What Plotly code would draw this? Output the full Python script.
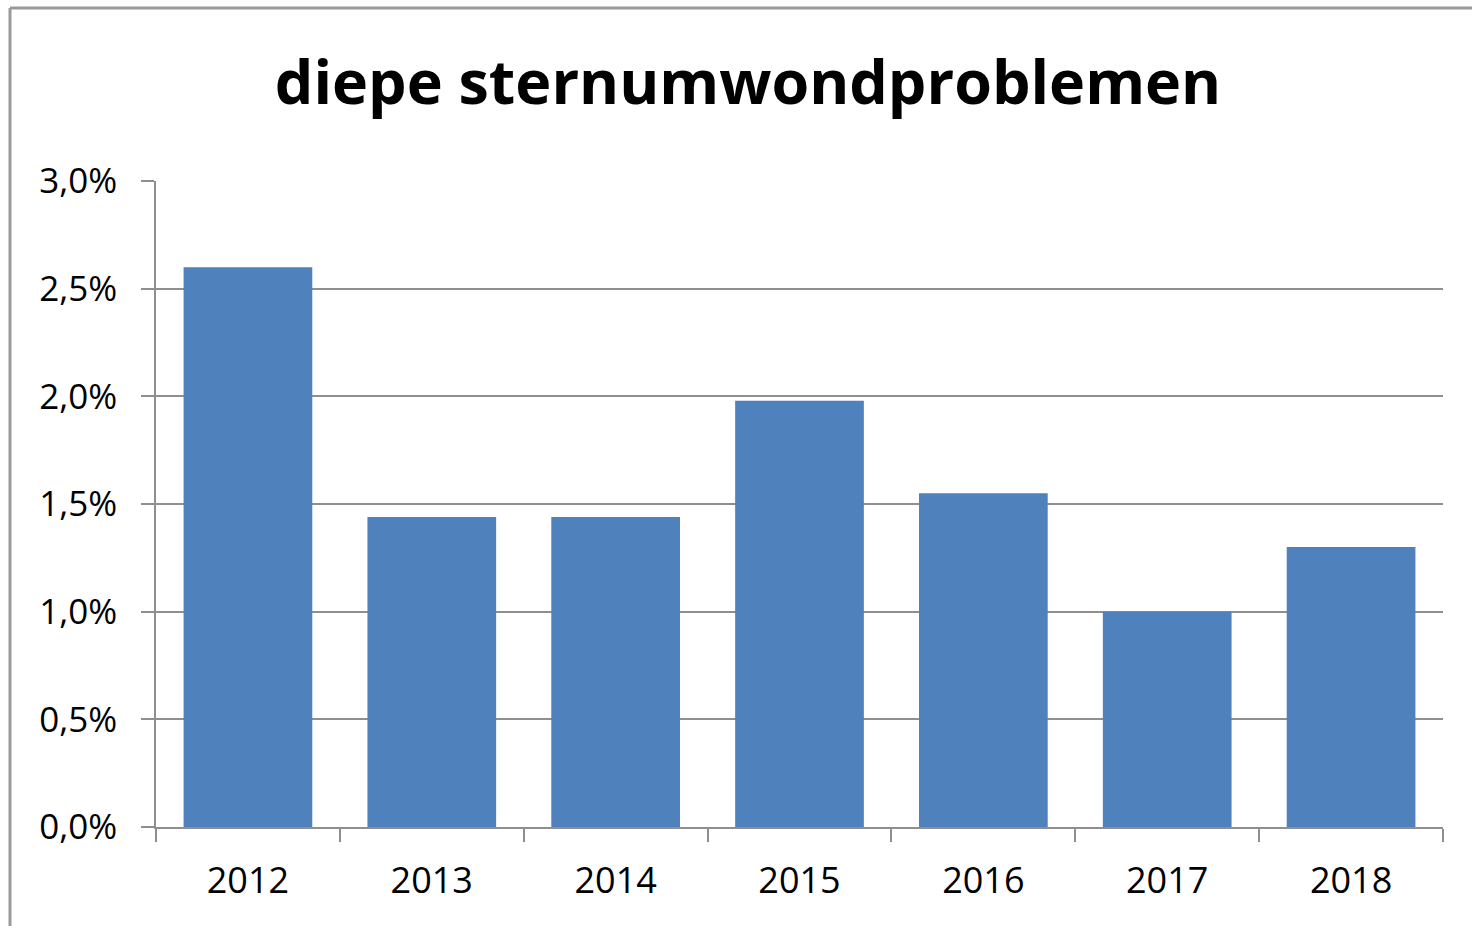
import plotly.graph_objects as go

years = ["2012", "2013", "2014", "2015", "2016", "2017", "2018"]
values = [2.60, 1.44, 1.44, 1.98, 1.55, 1.00, 1.30]
y_ticks = [0, 0.5, 1.0, 1.5, 2.0, 2.5, 3.0]
y_tick_labels = ["0,0%", "0,5%", "1,0%", "1,5%", "2,0%", "2,5%", "3,0%"]
title_text = "diepe sternumwondproblemen"

W, H = 1472, 926
L, R, T, B = 156, 1443, 181, 827
pw, ph = R - L, B - T

def px(x):
    return (x - L) / pw

def py(y):
    return (B - y) / ph

grid_col = "#8f8f8f"
fig = go.Figure(go.Bar(x=years, y=values, marker=dict(color="#4F81BD", line=dict(width=0))))

fig.update_layout(
    width=W, height=H,
    margin=dict(l=L, r=W - R, t=T, b=H - B, autoexpand=False),
    paper_bgcolor="white", plot_bgcolor="white",
    separators=",.",
    bargap=0.30,
    showlegend=False,
    title=dict(text="<b>" + title_text + "</b>", x=748 / W, xanchor="center",
               y=1 - 83 / H, yanchor="middle",
               font=dict(family="Open Sans", size=61, color="black")),
    font=dict(family="Open Sans", size=35, color="black"),
)
fig.update_yaxes(range=[0, 3.0], tickvals=y_ticks, ticktext=y_tick_labels,
                 showgrid=True, gridcolor=grid_col, gridwidth=1.5,
                 showline=True, linecolor=grid_col, linewidth=1.5,
                 ticks="outside", ticklen=13, tickcolor=grid_col, tickwidth=1.5,
                 ticklabelstandoff=17, zeroline=False,
                 tickfont=dict(family="Open Sans", size=35, color="black"))
fig.update_xaxes(type="category", showline=True, linecolor=grid_col, linewidth=1.5,
                 ticks="outside", tickson="boundaries", ticklen=13, tickcolor=grid_col,
                 tickwidth=1.5, ticklabelstandoff=21, showgrid=False,
                 tickfont=dict(family="Open Sans", size=36, color="black"))

border = "#9a9a9a"
fig.add_shape(type="line", xref="paper", yref="paper", x0=px(10), x1=px(10), y0=py(8), y1=py(H + 5),
              line=dict(color=border, width=3))
fig.add_shape(type="line", xref="paper", yref="paper", x0=px(10), x1=px(W + 5), y0=py(8), y1=py(8),
              line=dict(color=border, width=3))

fig.write_html("out.html", config={"displayModeBar": False},
               post_script="document.body.style.margin='0';document.body.style.overflow='hidden';")
